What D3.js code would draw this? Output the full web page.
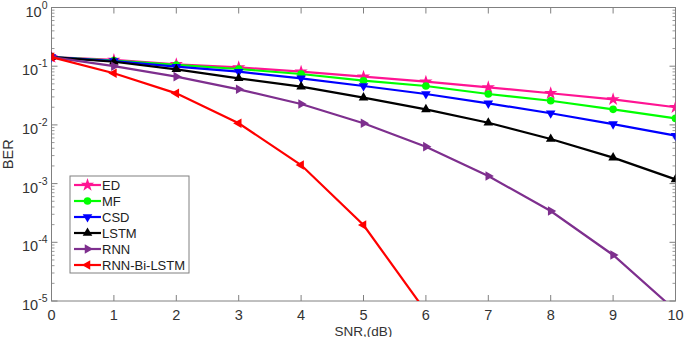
<!DOCTYPE html>
<html>
<head>
<meta charset="utf-8">
<script src="https://cdn.jsdelivr.net/npm/d3@7"></script>
<style>
  body { margin: 0; background: #fff; }
  text { font-family: "Liberation Sans", Arial, sans-serif; }
</style>
</head>
<body>
<div id="chart"></div>
<script>
// SNR values (dB)
const snr = [0, 1, 2, 3, 4, 5, 6, 7, 8, 9, 10];

// BER per method
const berED = [0.143, 0.128, 0.108, 0.0957, 0.0806, 0.0663, 0.0545, 0.0437, 0.0346, 0.0273, 0.020];
const berMF = [0.143, 0.125, 0.105, 0.0896, 0.0736, 0.0566, 0.046, 0.0336, 0.0258, 0.0184, 0.0129];
const berCSD = [0.143, 0.122, 0.098, 0.0806, 0.0622, 0.046, 0.0336, 0.0233, 0.0158, 0.0103, 0.00655];
const berLSTM = [0.143, 0.119, 0.0885, 0.0622, 0.0448, 0.0291, 0.0184, 0.0109, 0.00575, 0.00277, 0.00118];
const berRNN = [0.143, 0.100, 0.0663, 0.0404, 0.0227, 0.01065, 0.00426, 0.00135, 0.000341, 0.0000608, 0.0000069];
const berBiLSTM = [0.143, 0.0757, 0.0345, 0.01065, 0.00207, 0.000197, 0.0000066];

const seriesNames = ["ED", "MF", "CSD", "LSTM", "RNN", "RNN-Bi-LSTM"];
const seriesColors = ["#ff1493", "#00ff00", "#0000ff", "#000000", "#7e2f8e", "#ff0000"];
const seriesMarkers = ["star", "circle", "down", "up", "right", "left"];
const seriesValues = [berED, berMF, berCSD, berLSTM, berRNN, berBiLSTM];

const yTicks = [1e0, 1e-1, 1e-2, 1e-3, 1e-4, 1e-5];

const width = 685, height = 337;
const margin = { top: 7.5, right: 9.5, bottom: 36, left: 51.5 };
const w = width - margin.left - margin.right;
const h = height - margin.top - margin.bottom;

const svg = d3.select("#chart").append("svg")
    .attr("width", width)
    .attr("height", height);

const g = svg.append("g")
    .attr("transform", `translate(${margin.left},${margin.top})`);

const x = d3.scaleLinear().domain([0, 10]).range([0, w]);
const y = d3.scaleLog().domain([1e-5, 1]).range([h, 0]);

const axisColor = "#808080";

// clip
svg.append("defs").append("clipPath").attr("id", "plot-clip")
    .append("rect").attr("x", 0).attr("y", 0).attr("width", w).attr("height", h);

// minor log ticks (left and right, inside)
const minor = [];
for (let e = -5; e < 0; e++) {
    for (let m = 2; m <= 9; m++) minor.push(m * Math.pow(10, e));
}
minor.forEach(v => {
    g.append("line").attr("x1", 0).attr("x2", 3).attr("y1", y(v)).attr("y2", y(v))
        .attr("stroke", axisColor).attr("stroke-width", 0.8);
    g.append("line").attr("x1", w).attr("x2", w - 3).attr("y1", y(v)).attr("y2", y(v))
        .attr("stroke", axisColor).attr("stroke-width", 0.8);
});
// major y ticks
yTicks.forEach(v => {
    g.append("line").attr("x1", 0).attr("x2", 6).attr("y1", y(v)).attr("y2", y(v))
        .attr("stroke", axisColor);
    g.append("line").attr("x1", w).attr("x2", w - 6).attr("y1", y(v)).attr("y2", y(v))
        .attr("stroke", axisColor);
    const t = g.append("text")
        .attr("x", -4).attr("y", y(v) + 9)
        .attr("text-anchor", "end")
        .attr("font-size", 14.5)
        .attr("fill", "#333");
    t.append("tspan").text("10");
    t.append("tspan").attr("dy", -8).attr("font-size", 10.5).text(Math.round(Math.log10(v)));
});
// x ticks
snr.forEach(v => {
    g.append("line").attr("x1", x(v)).attr("x2", x(v)).attr("y1", h).attr("y2", h - 6)
        .attr("stroke", axisColor);
    g.append("line").attr("x1", x(v)).attr("x2", x(v)).attr("y1", 0).attr("y2", 6)
        .attr("stroke", axisColor);
    g.append("text")
        .attr("x", x(v)).attr("y", h + 19)
        .attr("text-anchor", "middle")
        .attr("font-size", 14.5)
        .attr("fill", "#333")
        .text(v);
});

// box
g.append("rect").attr("width", w).attr("height", h)
    .attr("fill", "none").attr("stroke", axisColor).attr("stroke-width", 1);

// marker drawing
const drawMarker = (sel, type, color) => {
    if (type === "circle") {
        sel.append("circle").attr("r", 3.8).attr("fill", color);
    } else if (type === "star") {
        sel.append("path").attr("d", d3.symbol().type(d3.symbolStar).size(55)())
            .attr("fill", color);
    } else {
        const rot = { up: 0, right: 90, down: 180, left: 270 }[type];
        sel.append("path").attr("d", d3.symbol().type(d3.symbolTriangle).size(40)())
            .attr("transform", `rotate(${rot})`)
            .attr("fill", color);
    }
};

const line = d3.line()
    .x((d, i) => x(snr[i]))
    .y(d => y(d));

const plot = g.append("g").attr("clip-path", "url(#plot-clip)");

seriesValues.forEach((vals, k) => {
    plot.append("path")
        .datum(vals)
        .attr("fill", "none")
        .attr("stroke", seriesColors[k])
        .attr("stroke-width", 2.2)
        .attr("d", line);
    vals.forEach((v, i) => {
        const m = plot.append("g").attr("transform", `translate(${x(snr[i])},${y(v)})`);
        drawMarker(m, seriesMarkers[k], seriesColors[k]);
    });
});

// legend
const lg = svg.append("g").attr("transform", "translate(70,176)");
lg.append("rect").attr("width", 119).attr("height", 97)
    .attr("fill", "#fff").attr("stroke", axisColor).attr("stroke-width", 1);
seriesNames.forEach((name, k) => {
    const yy = 9 + k * 16;
    lg.append("line").attr("x1", 4).attr("x2", 31).attr("y1", yy).attr("y2", yy)
        .attr("stroke", seriesColors[k]).attr("stroke-width", 2.2);
    const m = lg.append("g").attr("transform", `translate(17.5,${yy})`);
    drawMarker(m, seriesMarkers[k], seriesColors[k]);
    lg.append("text").attr("x", 32).attr("y", yy + 4.5)
        .attr("font-size", 13).attr("fill", "#222").text(name);
});

// axis labels
svg.append("text")
    .attr("x", margin.left + w / 2).attr("y", 335.5)
    .attr("text-anchor", "middle")
    .attr("font-size", 13.5).attr("fill", "#333")
    .text("SNR,(dB)");
svg.append("text")
    .attr("transform", `translate(13,${margin.top + h / 2}) rotate(-90)`)
    .attr("text-anchor", "middle")
    .attr("font-size", 14.5).attr("fill", "#333")
    .text("BER");
</script>
</body>
</html>
